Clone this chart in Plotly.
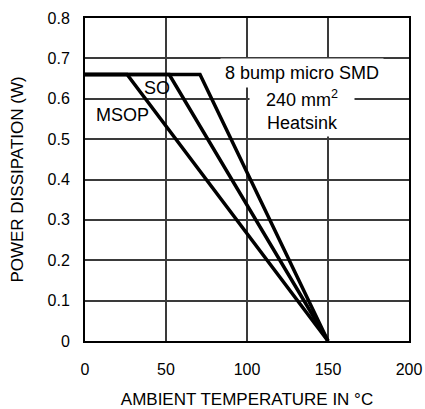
import plotly.graph_objects as go

# Data
msop_x = [0, 26, 150]
msop_y = [0.66, 0.66, 0]
so_x = [0, 52, 150]
so_y = [0.66, 0.66, 0]
smd_x = [0, 71, 150]
smd_y = [0.66, 0.66, 0]

x_ticks = [0, 50, 100, 150, 200]
y_ticks = [0, 0.1, 0.2, 0.3, 0.4, 0.5, 0.6, 0.7, 0.8]
y_tick_text = ["0", "0.1", "0.2", "0.3", "0.4", "0.5", "0.6", "0.7", "0.8"]

FONT = "Liberation Sans"
NB = "\u00a0"

fig = go.Figure()
for xs, ys, name in [(msop_x, msop_y, "MSOP"), (so_x, so_y, "SO"), (smd_x, smd_y, "8 bump micro SMD")]:
    fig.add_trace(go.Scatter(x=xs, y=ys, mode="lines", name=name,
                             line=dict(color="black", width=3.5), showlegend=False))

lab_font = dict(family=FONT, size=18, color="black")
fig.add_annotation(x=134, y=0.663, text="8 bump micro SMD", showarrow=False,
                   font=lab_font, bgcolor="white", borderpad=4)
fig.add_annotation(x=134, y=0.600, text=NB * 3 + "240 mm<sup>2</sup>" + NB * 3, showarrow=False,
                   font=lab_font, bgcolor="white", borderpad=1)
fig.add_annotation(x=134, y=0.539, text="Heatsink", showarrow=False,
                   font=lab_font, bgcolor="white", borderpad=3)
fig.add_annotation(x=44.2, y=0.626, text="SO", showarrow=False, font=lab_font)
fig.add_annotation(x=22.9, y=0.56, text="MSOP", showarrow=False, font=lab_font)

fig.update_layout(
    width=425, height=409,
    margin=dict(l=85, r=16, t=18, b=68),
    plot_bgcolor="white", paper_bgcolor="white",
    font=dict(family=FONT, size=16, color="black"),
)
fig.update_xaxes(range=[0, 200], tickvals=x_ticks, showgrid=True, gridcolor="#3a3a3a", gridwidth=1.5,
                 showline=True, linecolor="black", linewidth=2, mirror=True, zeroline=False,
                 ticks="", ticklabelstandoff=13, automargin=False,
                 tickfont=dict(family=FONT, size=16),
                 title=dict(text="AMBIENT TEMPERATURE IN °C", standoff=20,
                            font=dict(family=FONT, size=17)))
fig.update_yaxes(range=[0, 0.8], tickvals=y_ticks, ticktext=y_tick_text, showgrid=True,
                 gridcolor="#3a3a3a", gridwidth=1.5,
                 showline=True, linecolor="black", linewidth=2, mirror=True, zeroline=False,
                 ticks="", ticklabelstandoff=10, automargin=False,
                 tickfont=dict(family=FONT, size=16),
                 title=dict(text="POWER DISSIPATION (W)", standoff=20,
                            font=dict(family=FONT, size=17)))

fig.write_html("out.html", config={"displayModeBar": False},
               post_script="document.body.style.margin='0';")
